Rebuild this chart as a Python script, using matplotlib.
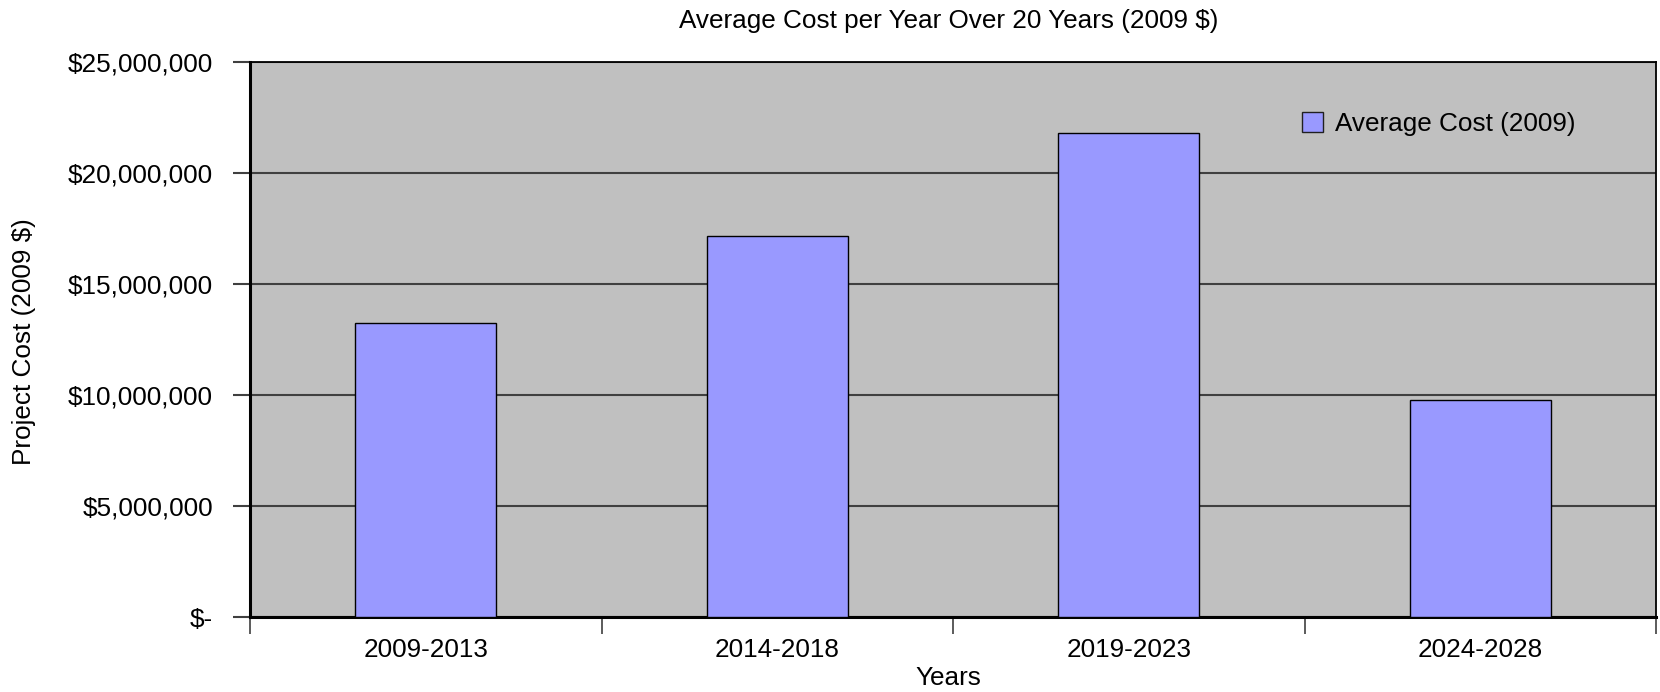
import matplotlib
matplotlib.use("Agg")
import matplotlib.pyplot as plt
from matplotlib.patches import Patch
import numpy as np

plt.rcParams['font.family'] = ['Liberation Sans', 'DejaVu Sans']

# Data
periods = ["2009-2013", "2014-2018", "2019-2023", "2024-2028"]
avg_cost = [13_230_000, 17_160_000, 21_810_000, 9_790_000]
y_ticks = [0, 5_000_000, 10_000_000, 15_000_000, 20_000_000, 25_000_000]
y_tick_labels = ["$-", "$5,000,000", "$10,000,000", "$15,000,000",
                 "$20,000,000", "$25,000,000"]
series_name = "Average Cost (2009)"

FS = 18.8
W, H = 1660, 692
fig = plt.figure(figsize=(W / 100, H / 100), dpi=100)
fig.patch.set_facecolor("white")

left, right, top, bottom = 250, 1656, 61.7, 617.3
ax = fig.add_axes([left / W, 1 - bottom / H, (right - left) / W, (bottom - top) / H])
ax.set_facecolor("#C0C0C0")

x = np.arange(len(periods))
ax.bar(x, avg_cost, width=0.40, color="#9999FF", edgecolor="black",
       linewidth=1.0, zorder=3)

ax.set_xlim(-0.5, len(periods) - 0.5)
ax.set_ylim(0, 25_000_000)

# Horizontal gridlines
ax.set_yticks(y_ticks)
ax.set_yticklabels(y_tick_labels)
ax.yaxis.grid(True, color="#404040", linewidth=1.5, zorder=1)
ax.set_axisbelow(True)

# Category boundaries carry the tick marks, centres carry the labels
ax.set_xticks(np.arange(-0.5, len(periods), 1.0))
ax.set_xticklabels([])
ax.set_xticks(x, minor=True)
ax.set_xticklabels(periods, minor=True)
ax.tick_params(axis="x", which="major", length=12.2, width=1.2,
               color="#404040", direction="out")
ax.tick_params(axis="x", which="minor", length=0, pad=15.0, labelsize=FS)
ax.tick_params(axis="y", length=12.2, width=1.5, color="#404040",
               direction="out", pad=14.4, labelsize=FS)

for side in ["left", "bottom"]:
    ax.spines[side].set_linewidth(2.2)
    ax.spines[side].set_color("black")
for side in ["top", "right"]:
    ax.spines[side].set_linewidth(1.3)
    ax.spines[side].set_color("black")

fig.text(948.6 / W, 1 - 21 / H, "Average Cost per Year Over 20 Years (2009 $)",
         ha="center", va="center", fontsize=FS)
fig.text(948.6 / W, 1 - 678 / H, "Years", ha="center", va="center",
         fontsize=FS)
fig.text(24 / W, 1 - 342 / H, "Project Cost (2009 $)", ha="center",
         va="center", rotation=90, fontsize=FS)

handle = Patch(facecolor="#9999FF", edgecolor="#202020", linewidth=1.0)
leg = ax.legend([handle], [series_name], loc="center left",
                bbox_to_anchor=(1301.7 / W, 1 - 124 / H),
                bbox_transform=fig.transFigure,
                frameon=False, fontsize=FS, handlelength=0.8,
                handleheight=0.78, handletextpad=0.46, borderpad=0,
                borderaxespad=0)

fig.savefig("out.png", dpi=100)
